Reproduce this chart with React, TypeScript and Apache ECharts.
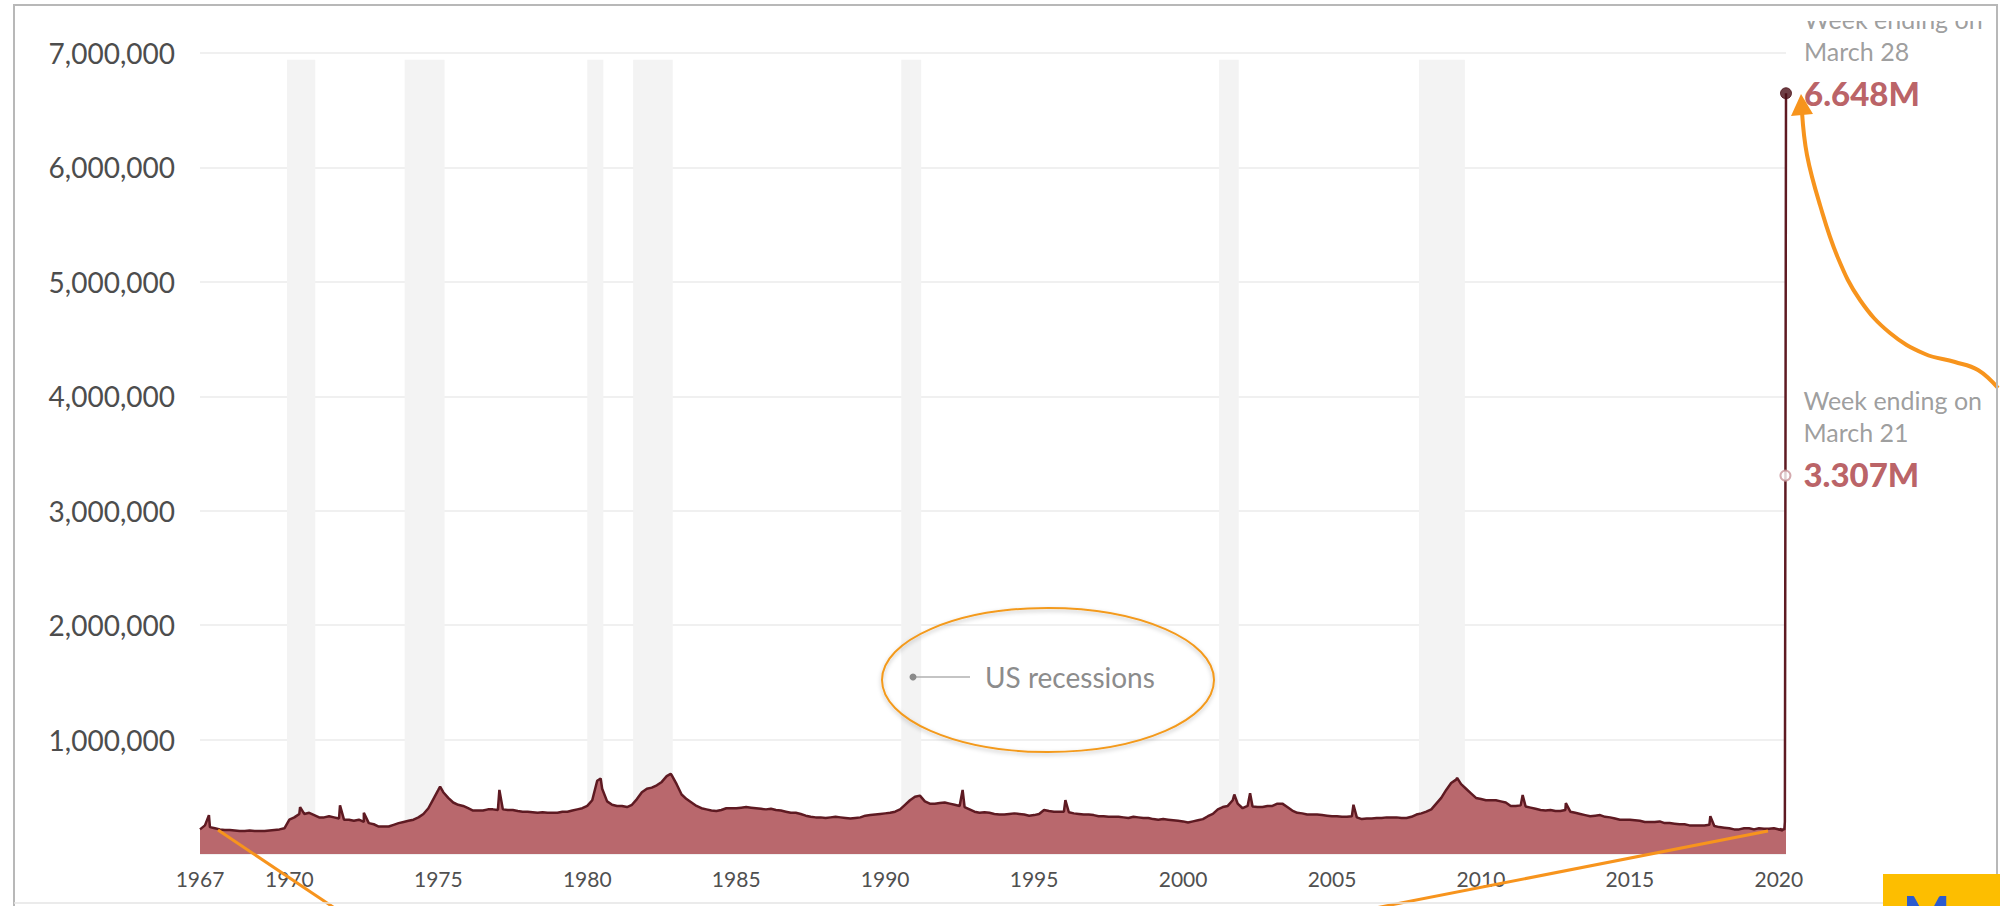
import React, { useEffect, useRef } from "react";
import * as echarts from "echarts";

// Weekly initial jobless claims (thousands).
const START_YEAR = 1967;
// six values per year (one every two months), 1967 .. 2019
const claimsBimonthly: number[][] = [
  [215, 250, 235, 225, 215, 210], // 1967
  [210, 205, 200, 200, 205, 200], // 1968
  [200, 200, 205, 210, 215, 225], // 1969
  [300, 320, 350, 350, 360, 340], // 1970
  [320, 320, 330, 320, 310, 300], // 1971
  [300, 290, 300, 280, 270, 260], // 1972
  [240, 240, 240, 255, 270, 280], // 1973
  [290, 300, 320, 350, 400, 480], // 1974
  [560, 540, 490, 450, 430, 420], // 1975
  [400, 380, 380, 380, 390, 390], // 1976
  [385, 390, 385, 385, 375, 370], // 1977
  [370, 365, 360, 365, 360, 360], // 1978
  [360, 370, 370, 380, 390, 400], // 1979
  [420, 470, 640, 570, 460, 430], // 1980
  [420, 420, 410, 430, 480, 540], // 1981
  [570, 580, 600, 630, 680, 690], // 1982
  [610, 520, 480, 450, 420, 400], // 1983
  [390, 380, 375, 385, 400, 400], // 1984
  [400, 405, 410, 405, 400, 395], // 1985
  [390, 395, 385, 380, 370, 360], // 1986
  [360, 350, 335, 325, 320, 320], // 1987
  [315, 320, 325, 320, 315, 310], // 1988
  [315, 320, 335, 340, 345, 350], // 1989
  [355, 360, 370, 390, 430, 470], // 1990
  [500, 510, 460, 440, 440, 445], // 1991
  [450, 440, 430, 420, 410, 390], // 1992
  [370, 360, 365, 360, 350, 345], // 1993
  [345, 350, 355, 350, 345, 335], // 1994
  [340, 350, 385, 375, 370, 370], // 1995
  [370, 365, 355, 350, 345, 345], // 1996
  [340, 330, 330, 325, 325, 325], // 1997
  [320, 315, 325, 320, 315, 315], // 1998
  [305, 300, 305, 300, 295, 290], // 1999
  [285, 275, 285, 295, 305, 330], // 2000
  [350, 390, 410, 420, 470, 440], // 2001
  [400, 420, 415, 410, 410, 420], // 2002
  [420, 440, 440, 410, 380, 360], // 2003
  [355, 345, 345, 345, 340, 335], // 2004
  [330, 330, 325, 325, 330, 320], // 2005
  [305, 310, 310, 315, 315, 320], // 2006
  [320, 320, 315, 315, 325, 345], // 2007
  [355, 370, 390, 440, 490, 560], // 2008
  [620, 650, 610, 570, 530, 490], // 2009
  [480, 470, 470, 470, 460, 450], // 2010
  [420, 420, 425, 415, 405, 395], // 2011
  [385, 380, 385, 375, 375, 385], // 2012
  [370, 360, 350, 340, 330, 335], // 2013
  [340, 325, 320, 310, 300, 300], // 2014
  [300, 295, 290, 280, 280, 280], // 2015
  [285, 270, 270, 265, 260, 260], // 2016
  [250, 250, 250, 250, 255, 245], // 2017
  [235, 230, 225, 215, 215, 225], // 2018
  [225, 215, 225, 220, 220, 225], // 2019
];

// single-week spikes
const spikeDates = [1967.3, 1970.36, 1971.7, 1972.5, 1975.06, 1977.05, 1980.45, 1982.8, 1992.6, 1996.05, 2001.72, 2002.25, 2005.72, 2009.2, 2011.4, 2012.85, 2017.7];
const spikeValues = [340, 410, 425, 360, 590, 560, 660, 700, 560, 470, 520, 530, 430, 665, 515, 445, 330];

// weeks of 2020
const weekDates2020 = [2020.01, 2020.029, 2020.049, 2020.068, 2020.087, 2020.106, 2020.126, 2020.145, 2020.164, 2020.183, 2020.202, 2020.221, 2020.24];
const weekClaims2020 = [214, 207, 220, 216, 203, 205, 210, 219, 217, 211, 282, 3307, 6648];

const annotationWeeks = ["March 21", "March 28"];

const recessionStarts = [1969.92, 1973.87, 1980.0, 1981.54, 1990.54, 2001.21, 2007.92];
const recessionEnds = [1970.87, 1975.21, 1980.54, 1982.87, 1991.21, 2001.87, 2009.46];

const xTickYears = [1967, 1970, 1975, 1980, 1985, 1990, 1995, 2000, 2005, 2010, 2015, 2020];
const yMax = 7000;
const yStep = 1000;

const FONT = "Lato, 'Noto Sans', sans-serif";

function buildPoints(): [number, number][] {
  const pts: [number, number][] = [];
  claimsBimonthly.forEach((row, r) =>
    row.forEach((v, i) => pts.push([START_YEAR + r + i / 6, v]))
  );
  spikeDates.forEach((d, i) => pts.push([d, spikeValues[i]]));
  weekDates2020.forEach((d, i) => pts.push([d, weekClaims2020[i]]));
  pts.sort((a, b) => a[0] - b[0]);
  return pts;
}

export default function App() {
  const ref = useRef<HTMLDivElement>(null);

  useEffect(() => {
    if (!ref.current) return;
    const chart = echarts.init(ref.current, null, { renderer: "svg" });
    const points = buildPoints();
    const n = weekDates2020.length;
    const annot = [n - 2, n - 1].map((idx, k) => {
      const v = weekClaims2020[idx];
      const last = k === 1;
      return {
        value: [weekDates2020[idx], v],
        symbolSize: last ? 11 : 10,
        itemStyle: last
          ? { color: "#4a0f16", borderColor: "#4a0f16", borderWidth: 1 }
          : { color: "#ffffff", borderColor: "#c9959a", borderWidth: 2 },
        label: {
          show: true,
          position: "right",
          distance: 12,
          offset: [0, last ? -32 : -34],
          formatter: `{a|Week ending on}\n{a|${annotationWeeks[k]}}\n{b|${(v / 1000).toFixed(3)}M}`,
          rich: {
            a: { fontFamily: FONT, fontSize: 25, lineHeight: 32, color: "#858585" },
            b: { fontFamily: FONT, fontSize: 33, fontWeight: 900, lineHeight: 52, color: "#a8393e" },
          },
        },
      };
    });

    const orange = "#f7941d";

    chart.setOption({
      animation: false,
      backgroundColor: "#ffffff",
      grid: { left: 200, right: 214, top: 53, bottom: 52, containLabel: false },
      xAxis: {
        type: "value",
        min: START_YEAR,
        max: weekDates2020[n - 1],
        axisLine: { show: false },
        axisTick: { show: false },
        splitLine: { show: false },
        axisLabel: {
          customValues: xTickYears,
          formatter: (v: number) => String(Math.round(v)),
          margin: 14,
          fontSize: 21,
          fontFamily: FONT,
          color: "#505050",
        },
      },
      yAxis: {
        type: "value",
        min: 0,
        max: yMax,
        interval: yStep,
        axisLine: { show: false },
        axisTick: { show: false },
        splitLine: { lineStyle: { color: "#ebebeb", width: 1.5 } },
        axisLabel: {
          formatter: (v: number) => (v === 0 ? "" : (v * 1000).toLocaleString("en-US")),
          margin: 25,
          fontSize: 28,
          fontFamily: FONT,
          color: "#4d4d4d",
        },
      },
      series: [
        {
          type: "line",
          data: [],
          z: 1,
          silent: true,
          markArea: {
            silent: true,
            itemStyle: { color: "#f3f3f3" },
            data: recessionStarts.map((s, i) => [
              { coord: [s, 0] },
              { coord: [recessionEnds[i], 6940] },
            ]),
          },
        },
        {
          type: "line",
          data: points,
          z: 3,
          showSymbol: false,
          symbol: "none",
          lineStyle: { color: "#5e1a22", width: 2.5 },
          areaStyle: { color: "#b9686d", opacity: 1 },
        },
        {
          type: "scatter",
          z: 5,
          data: annot,
        },
      ],
      graphic: [
        // frame (left, top, right) and faint bottom
        { type: "polyline", z: 50, shape: { points: [[14, 906], [14, 5], [1997, 5], [1997, 906]] }, style: { fill: "none", stroke: "#b8b8b8", lineWidth: 2 } },
        { type: "line", z: 50, shape: { x1: 14, y1: 903, x2: 1997, y2: 903 }, style: { stroke: "#e4e4e4", lineWidth: 1.5 } },
        // top crop of the first annotation line
        { type: "rect", z: 60, shape: { x: 1790, y: 7, width: 205, height: 14 }, style: { fill: "#ffffff" } },
        // US recessions key
        { type: "line", z: 20, shape: { x1: 913, y1: 677, x2: 970, y2: 677 }, style: { stroke: "#b0b0b0", lineWidth: 1.5 } },
        { type: "circle", z: 21, shape: { cx: 913, cy: 677, r: 3.5 }, style: { fill: "#8a8a8a" } },
        { type: "text", z: 21, x: 985, y: 677, style: { text: "US recessions", fill: "#8c8c8c", font: `28px ${FONT}`, verticalAlign: "middle", align: "left" } },
        // orange annotations
        { type: "ellipse", z: 30, shape: { cx: 1048, cy: 680, rx: 166, ry: 72 }, style: { fill: "none", stroke: "#f39a1e", lineWidth: 2, shadowBlur: 4, shadowColor: "rgba(0,0,0,0.25)", shadowOffsetY: 2 } },
        { type: "line", z: 30, shape: { x1: 218, y1: 830, x2: 345, y2: 915 }, style: { stroke: orange, lineWidth: 3 } },
        { type: "line", z: 30, shape: { x1: 1768, y1: 831, x2: 1355, y2: 912 }, style: { stroke: orange, lineWidth: 3 } },
        {
          type: "polyline", z: 30,
          shape: {
            points: [[1802, 112], [1807, 155], [1820, 205], [1838, 258], [1860, 300], [1890, 333], [1925, 354], [1955, 362], [1978, 370], [1998, 388]],
            smooth: 0.4,
          },
          style: { stroke: orange, lineWidth: 4, fill: "none" },
        },
        { type: "polygon", z: 31, shape: { points: [[1801, 94], [1791, 116], [1813, 114]] }, style: { fill: orange } },
        // yellow corner box
        { type: "rect", z: 70, shape: { x: 1883, y: 874, width: 117, height: 32 }, style: { fill: "#fdbe00" } },
        { type: "text", z: 71, x: 1903, y: 888, style: { text: "M", fill: "#2b5bd0", font: `bold 50px ${FONT}`, verticalAlign: "top", align: "left" } },
      ],
    });

    return () => chart.dispose();
  }, []);

  return (
    <div
      ref={ref}
      style={{ position: "absolute", left: 0, top: 0, width: 2000, height: 906, background: "#fff" }}
    />
  );
}
